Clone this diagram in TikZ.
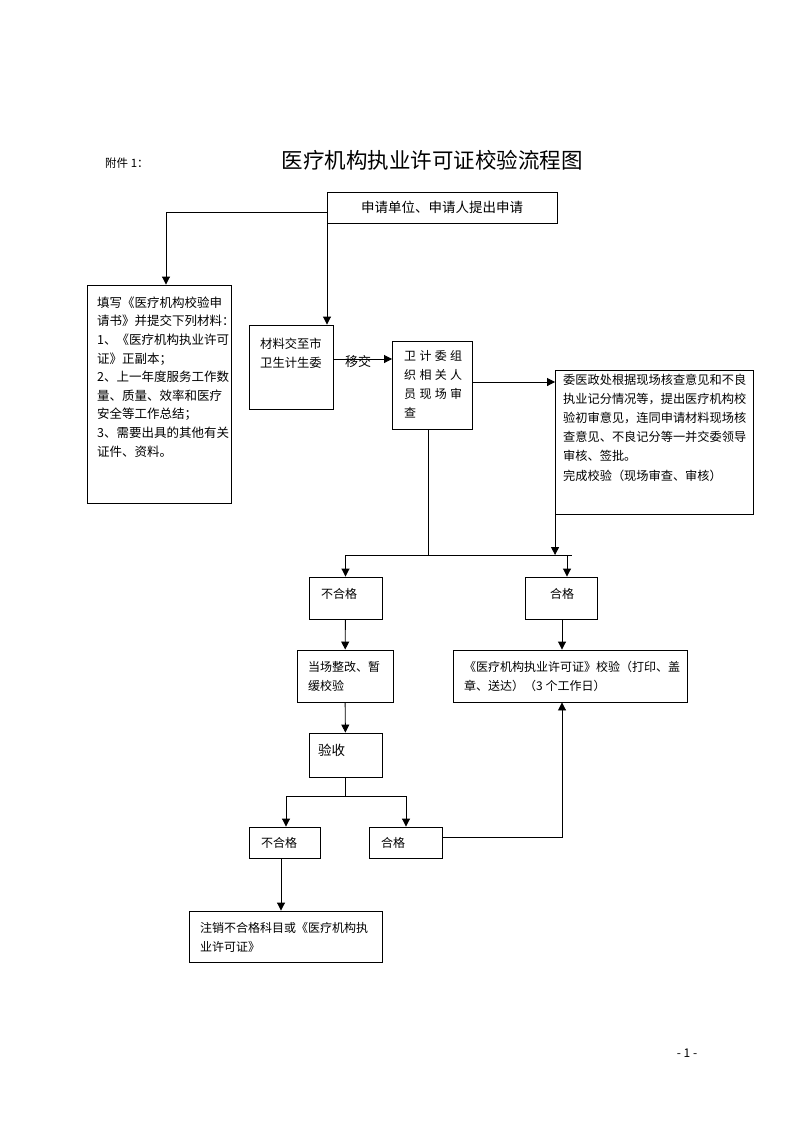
\documentclass[tikz,border=0pt]{standalone}
\usepackage{fontspec}
\setmainfont{Noto Sans CJK SC}
\usetikzlibrary{arrows.meta}
\tikzset{
  box/.style={draw, line width=0.9pt, inner sep=0pt},
  txt/.style={inner sep=0pt, align=left, font=\fontsize{12}{19}\selectfont},
  ln/.style={line width=0.9pt},
  arr/.style={line width=0.9pt, -{Triangle[length=8pt,width=8pt]}},
}
\begin{document}
\begin{tikzpicture}[x=1pt,y=-1pt]
\useasboundingbox (0,0) rectangle (793,1122);
\fill[white] (0,0) rectangle (793,1122);
% header
\node[inner sep=0pt, anchor=west, font=\fontsize{11.5}{14}\selectfont] (att) at (105,163) {附件 1：};
\node[inner sep=0pt, font=\fontsize{21.5}{24}\selectfont] (title) at (432,160) {医疗机构执业许可证校验流程图};
% boxes
\node[box, minimum width=230pt, minimum height=31pt, font=\fontsize{13.5}{16}\selectfont] (n0) at (442,207.5) {申请单位、申请人提出申请};
\node[box, minimum width=144pt, minimum height=218pt] (n1) at (159,394) {};
\node[box, minimum width=84pt, minimum height=84pt] (n2) at (291,367) {};
\node[box, minimum width=80pt, minimum height=88pt] (n3) at (432.5,385.5) {};
\node[box, minimum width=198pt, minimum height=144pt] (n4) at (654.5,442) {};
\node[box, minimum width=73pt, minimum height=42pt] (n5) at (345.5,598) {};
\node[box, minimum width=72pt, minimum height=42pt] (n6) at (561.5,598) {};
\node[box, minimum width=96pt, minimum height=52pt] (n7) at (345,676) {};
\node[box, minimum width=234pt, minimum height=52pt] (n8) at (570,676) {};
\node[box, minimum width=73pt, minimum height=44pt] (n9) at (345.5,755) {};
\node[box, minimum width=71pt, minimum height=31pt] (n10) at (284.5,842.5) {};
\node[box, minimum width=73pt, minimum height=31pt] (n11) at (405.5,842.5) {};
\node[box, minimum width=193pt, minimum height=51pt] (n12) at (285.5,936.5) {};
% texts
\node[txt, anchor=north west, font=\fontsize{12.5}{18.6}\selectfont] (t1) at (97,296.5) {填写《医疗机构校验申\\请书》并提交下列材料：\\1、《医疗机构执业许可\\证》正副本；\\2、上一年度服务工作数\\量、质量、效率和医疗\\安全等工作总结；\\3、需要出具的其他有关\\证件、资料。};
\node[txt, anchor=north west, font=\fontsize{12.3}{19}\selectfont] (t2) at (260,337.5) {材料交至市\\卫生计生委};
\node[txt, anchor=north west] (t3) at (404,350.5) {\makebox[58pt][l]{卫\hfill 计\hfill 委\hfill 组}\\\makebox[58pt][l]{织\hfill 相\hfill 关\hfill 人}\\\makebox[58pt][l]{员\hfill 现\hfill 场\hfill 审}\\查};
\node[txt, anchor=north west, font=\fontsize{12.2}{19.2}\selectfont] (t4) at (563,373.5) {委医政处根据现场核查意见和不良\\执业记分情况等，提出医疗机构校\\验初审意见，连同申请材料现场核\\查意见、不良记分等一并交委领导\\审核、签批。\\完成校验（现场审查、审核）};
\node[txt, anchor=west] (t5) at (321,594) {不合格};
\node[txt] (t6) at (562,594) {合格};
\node[txt, anchor=north west] (t7) at (308,661.5) {当场整改、暂\\缓校验};
\node[txt, anchor=north west] (t8) at (464,661.5) {《医疗机构执业许可证》校验（打印、盖\\章、送达）（3 个工作日）};
\node[txt, anchor=west, font=\fontsize{13.5}{16}\selectfont] (t9) at (318,750) {验收};
\node[txt, anchor=west] (t10) at (261,843) {不合格};
\node[txt, anchor=west] (t11) at (381,843) {合格};
\node[txt, anchor=north west] (t12) at (200,922.5) {注销不合格科目或《医疗机构执\\业许可证》};
\node[inner sep=0pt, font=\fontsize{12}{14}\selectfont] (pg) at (687,1053) {- 1 -};
% connectors
\coordinate (j0) at (327,212);
\coordinate (j1) at (166,212);
\draw[ln] (j0) -- (j1);
\draw[arr] (j1) -- (n1.north -| j1);
\draw[arr] (j0) -- (n2.north -| j0);
\coordinate (m1) at (0,359);
\draw[arr] (n2.east |- m1) -- node[pos=0.42, yshift=-2.5pt, inner sep=0pt, font=\fontsize{13}{14}\selectfont]{移交} (n3.west |- m1);
\coordinate (m2) at (0,382);
\draw[arr] (n3.east |- m2) -- (n4.west |- m2);
\coordinate (bL) at (345.5,555);
\coordinate (bR) at (572,555);
\coordinate (bM) at (428,555);
\draw[ln] (bL) -- (bR);
\draw[ln] (n3.south -| bM) -- (bM);
\draw[arr] (n4.south west) -- (n4.south west |- bL);
\draw[arr] (bL) -- (n5.north);
\coordinate (b6) at (567,555);
\draw[arr] (b6) -- (n6.north -| b6);
\draw[arr] (n5) -- (n7);
\coordinate (c8) at (562,0);
\draw[arr] (n6.south -| c8) -- (n8.north -| c8);
\draw[arr] (n7) -- (n9);
\coordinate (d0) at (345.5,796);
\coordinate (dL) at (286,796);
\coordinate (dR) at (406,796);
\draw[ln] (n9.south) -- (d0);
\draw[ln] (dL) -- (dR);
\draw[arr] (dL) -- (n10.north -| dL);
\draw[arr] (dR) -- (n11.north -| dR);
\coordinate (e1) at (562,837);
\draw[arr] (n11.east |- e1) -- (e1) -- (n8.south -| e1);
\coordinate (f1) at (281,0);
\draw[arr] (n10.south -| f1) -- (n12.north -| f1);
\end{tikzpicture}
\end{document}
